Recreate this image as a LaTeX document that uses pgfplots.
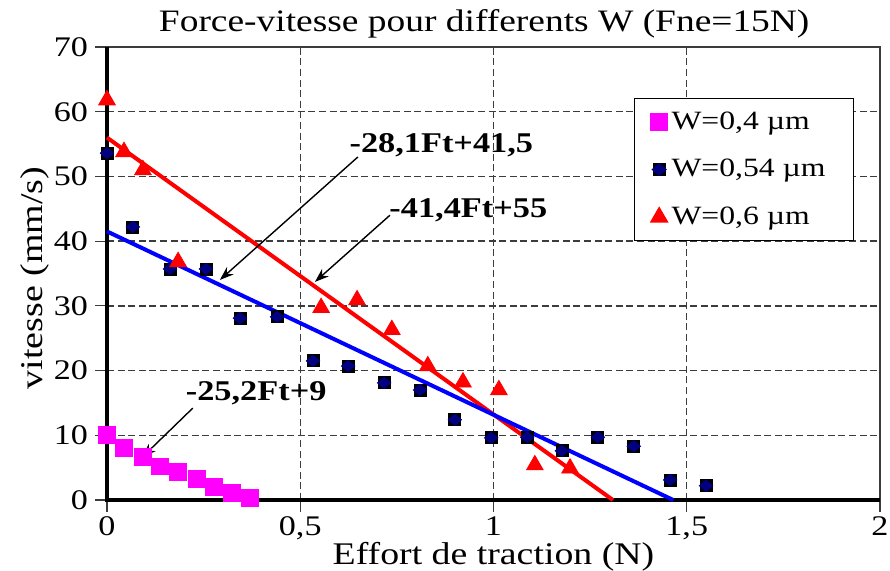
\documentclass[border=0pt]{standalone}
\usepackage{fontspec}
\setmainfont{Liberation Serif}[FakeStretch=1.2]
\usepackage{pgfplots}
\pgfplotsset{compat=1.18}
\usetikzlibrary{arrows.meta}
\definecolor{navy}{RGB}{0,0,128}
\definecolor{pmagenta}{RGB}{255,0,255}
\definecolor{gridgray}{RGB}{60,60,60}

\begin{document}
\begin{tikzpicture}
\begin{axis}[
  scale only axis, width=386.5pt, height=226.5pt,
  xmin=0, xmax=2, ymin=0, ymax=70,
  xtick={0,0.5,1,1.5,2}, xticklabels={0,{0,5},1,{1,5},2},
  ytick={0,10,...,70},
  xtick pos=bottom, ytick pos=left, tick align=outside,
  major tick length=6pt,
  tick style={gridgray, line width=0.6pt},
  grid=major,
  grid style={gridgray, line width=0.7pt, dash pattern=on 3.5pt off 1.8pt},
  axis line style={gridgray, line width=0.7pt},
  ticklabel style={font=\fontsize{14.2}{16}\selectfont},
  xticklabel style={yshift=1pt},
  /pgf/number format/assume math mode=true,
  clip=false,
  legend style={at={(axis cs:1.364,62.1)}, anchor=north west, draw=black,
    line width=0.6pt, fill=white, font=\fontsize{13.2}{15}\selectfont,
    row sep=9.5pt, inner xsep=8pt, inner ysep=4.5pt},
  legend cell align=left,
]
\coordinate (sw) at (rel axis cs:0,0);

% thick left and bottom axis lines
\draw[black, line width=2.2pt] (rel axis cs:0,1) -- (rel axis cs:0,0) -- (rel axis cs:1,0);

% fitted lines
\addplot[red, line width=2pt, forget plot] coordinates {(0,56) (1.309,0)};
\addplot[blue, line width=2pt, forget plot] coordinates {(0,41.5) (1.465,0)};

% W = 0,4
\addplot[only marks, mark=square*, mark size=4.2pt, color=pmagenta] coordinates {
  (0,10) (0.044,8) (0.093,6.6) (0.137,5.2) (0.184,4.4)
  (0.233,3.3) (0.277,2.0) (0.323,1.1) (0.370,0.3)
};
\addlegendentry{W=0,4 µm}

% W = 0,54
\addplot[only marks, mark=square*, mark size=3pt, color=black,
  legend image code/.code={
    \fill[black] (0.3cm-3pt,-2.8pt) rectangle (0.3cm+3pt,2.8pt);
    \fill[navy] (0.3cm-3.4pt,0pt) -- (0.3cm,2.8pt) -- (0.3cm+3.4pt,0pt) -- (0.3cm,-2.8pt) -- cycle;
  }] table {
  x y
  0 53.6
  0.067 42.2
  0.163 35.7
  0.256 35.7
  0.344 28.1
  0.44 28.3
  0.533 21.5
  0.624 20.7
  0.717 18.1
  0.81 17.0
  0.9 12.4
  0.994 9.6
  1.087 9.7
  1.177 7.6
  1.27 9.7
  1.363 8.3
  1.457 3.1
  1.55 2.2
};
\addlegendentry{W=0,54 µm\hspace*{4pt}}
\addplot[only marks, mark=diamond*, mark size=2.8pt, color=navy,
  mark options={xscale=1.6}, forget plot] table {
  x y
  0 53.6
  0.067 42.2
  0.163 35.7
  0.256 35.7
  0.344 28.1
  0.44 28.3
  0.533 21.5
  0.624 20.7
  0.717 18.1
  0.81 17.0
  0.9 12.4
  0.994 9.6
  1.087 9.7
  1.177 7.6
  1.27 9.7
  1.363 8.3
  1.457 3.1
  1.55 2.2
};

% W = 0,6
\addplot[only marks, mark=triangle*, mark size=4.8pt, color=red] coordinates {
  (0,61.8) (0.044,53.8) (0.093,51.0) (0.184,36.8)
  (0.554,29.7) (0.647,30.9) (0.737,26.3) (0.83,20.7)
  (0.921,18.2) (1.014,17.0) (1.107,5.4) (1.198,4.9)
};
\addlegendentry{W=0,6 µm}

% annotations
\node[font=\bfseries\fontsize{14.3}{16}\selectfont] at (axis cs:0.865,54.9) {-28,1Ft+41,5};
\node[font=\bfseries\fontsize{14.3}{16}\selectfont] at (axis cs:0.935,44.8) {-41,4Ft+55};
\node[font=\bfseries\fontsize{14.3}{16}\selectfont] at (axis cs:0.386,16.5) {-25,2Ft+9};
\draw[-{Stealth[length=7pt,width=5pt]}, line width=0.7pt] (axis cs:0.649,53.0) -- (axis cs:0.292,34.0);
\draw[-{Stealth[length=7pt,width=5pt]}, line width=0.7pt] (axis cs:0.732,44.0) -- (axis cs:0.538,33.7);
\draw[-{Stealth[length=7pt,width=5pt]}, line width=0.7pt] (axis cs:0.222,14.2) -- (axis cs:0.091,6.6);

% title and axis labels
\node[anchor=base, font=\fontsize{15.6}{18}\selectfont] at ([yshift=7.5pt]rel axis cs:0.488,1) {Force-vitesse pour differents W (Fne=15N)};
\node[anchor=base, font=\fontsize{15.75}{18}\selectfont] at ([yshift=-32.5pt]rel axis cs:0.5,0) {Effort de traction (N)};
\node[anchor=base, rotate=90, font=\fontsize{15.8}{18}\selectfont] at ([xshift=-32pt]rel axis cs:0,0.49) {vitesse (mm/s)};
\end{axis}
\pgfresetboundingbox
\path (sw) ++(-53.5pt,-35.5pt) rectangle ++(445pt,285.5pt);
\end{tikzpicture}
\end{document}
